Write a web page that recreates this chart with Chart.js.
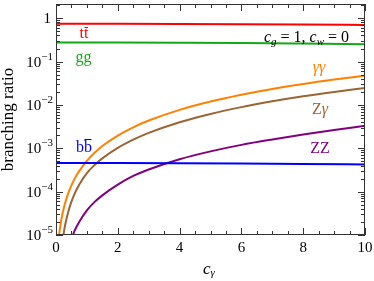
<!DOCTYPE html>
<html>
<head>
<meta charset="utf-8">
<script src="https://cdn.jsdelivr.net/npm/chart.js@4.4.1/dist/chart.umd.min.js"></script>
<style>
html,body{margin:0;padding:0;background:#fff;}
canvas{display:block;}
</style>
</head>
<body>
<canvas id="c" width="374" height="281"></canvas>
<script>
// ---- data ----
const cGrid = [0, 0.05, 0.1, 0.15, 0.2, 0.25, 0.3, 0.4, 0.5, 0.6, 0.75, 1, 1.25, 1.5, 2, 2.5, 3, 4, 5, 6, 7, 8, 9, 10];
const brGamGam = [1.0e-6, 4.3e-6, 1.0e-5, 1.8e-5, 2.85e-5, 4.1e-5, 5.6e-5, 9.4e-5, 1.40e-4, 1.97e-4, 2.98e-4, 5.15e-4, 7.9e-4, 1.13e-3, 1.97e-3, 3.05e-3, 4.37e-3, 7.7e-3, 1.2e-2, 1.72e-2, 2.34e-2, 3.05e-2, 3.85e-2, 4.75e-2];
const brZGam   = [null, null, null, 2.5e-6, 6.0e-6, 1.11e-5, 1.77e-5, 3.5e-5, 5.9e-5, 8.9e-5, 1.45e-4, 2.69e-4, 4.12e-4, 5.86e-4, 1.02e-3, 1.58e-3, 2.27e-3, 4.0e-3, 6.2e-3, 8.9e-3, 1.21e-2, 1.58e-2, 1.99e-2, 2.46e-2];
const brZZ     = [null, null, null, null, null, null, null, 4.0e-6, 7.8e-6, 1.25e-5, 2.0e-5, 3.7e-5, 5.8e-5, 8.2e-5, 1.45e-4, 2.3e-4, 3.25e-4, 5.6e-4, 8.5e-4, 1.2e-3, 1.6e-3, 2.08e-3, 2.65e-3, 3.3e-3];
const cFlat = [0, 2, 4, 6, 8, 10];
const brTT = [0.747, 0.745, 0.739, 0.729, 0.716, 0.700];
const brGG = [0.275, 0.274, 0.271, 0.267, 0.260, 0.252];
const brBB = [4.6e-4, 4.58e-4, 4.52e-4, 4.44e-4, 4.35e-4, 4.25e-4];

const xMajorTicks = [0, 2, 4, 6, 8, 10];
const xTickLabels = ['0', '2', '4', '6', '8', '10'];
const xMinorStep = 0.5;
const yMajorTicks = [1e-5, 1e-4, 1e-3, 1e-2, 1e-1, 1];
const yTickLabels = ['10^\u22125', '10^\u22124', '10^\u22123', '10^\u22122', '10^\u22121', '1'];
const yMin = 1e-5, yMax = 2.13;

const seriesLabels = ['tt\u0304', 'gg', 'bb\u0304', '\u03b3\u03b3', 'Z\u03b3', 'ZZ'];

const COL = {tt:'#ff0000', gg:'#14a814', bb:'#0000ff', aa:'#ff8000', za:'#996633', zz:'#800080'};

function pts(xs, ys){ return xs.map((v,i)=>({x:v, y:ys[i]})); }

const FONT = '"Liberation Serif", "Times New Roman", serif';

const deco = {
  id: 'deco',
  afterDraw(chart){
    const {ctx, chartArea:a, scales:{x, y}} = chart;
    ctx.save();
    // frame
    ctx.strokeStyle = '#333';
    ctx.lineWidth = 1;
    ctx.strokeRect(a.left + 0.5, a.top + 0.5, a.right - a.left - 1, a.bottom - a.top - 1);
    // x ticks (inward, bottom and top)
    ctx.beginPath();
    for (let v = x.min; v <= x.max + 1e-9; v += xMinorStep){
      const major = xMajorTicks.some(m => Math.abs(m - v) < 1e-9);
      const L = major ? 7 : 4;
      const px = Math.round(x.getPixelForValue(v)) + 0.5;
      ctx.moveTo(px, a.bottom); ctx.lineTo(px, a.bottom - L);
      ctx.moveTo(px, a.top); ctx.lineTo(px, a.top + L);
    }
    // y ticks (log, inward, left and right)
    for (let k = -5; k <= 0; k++){
      for (let m = 1; m <= 9; m++){
        const v = m * Math.pow(10, k);
        if (v < yMin * 0.999 || v > yMax) continue;
        const L = m === 1 ? 7 : 4;
        const py = Math.round(y.getPixelForValue(v)) + 0.5;
        ctx.moveTo(a.left, py); ctx.lineTo(a.left + L, py);
        ctx.moveTo(a.right, py); ctx.lineTo(a.right - L, py);
      }
    }
    ctx.stroke();

    // x tick labels
    ctx.fillStyle = '#000';
    ctx.font = '15px ' + FONT;
    ctx.textAlign = 'center';
    ctx.textBaseline = 'alphabetic';
    xMajorTicks.forEach((v, i) => {
      ctx.fillText(xTickLabels[i], x.getPixelForValue(v), 252);
    });
    // y tick labels with superscripts
    yMajorTicks.forEach((v, i) => {
      const py = y.getPixelForValue(v);
      const parts = yTickLabels[i].split('^');
      ctx.textAlign = 'right';
      if (parts.length === 2){
        ctx.font = '11px ' + FONT;
        const ew = ctx.measureText(parts[1]).width;
        ctx.fillText(parts[1], 53, py - 2);
        ctx.font = '15px ' + FONT;
        ctx.fillText(parts[0], 53 - ew, py + 5);
      } else {
        ctx.font = '15px ' + FONT;
        ctx.fillText(parts[0], 51, py + 5);
      }
    });
    // axis titles
    ctx.save();
    ctx.translate(13, (a.top + a.bottom) / 2);
    ctx.rotate(-Math.PI / 2);
    ctx.textAlign = 'center';
    ctx.font = '17px ' + FONT;
    ctx.fillText('branching ratio', 0, 0);
    ctx.restore();
    // c_gamma
    ctx.textAlign = 'left';
    ctx.font = 'italic 17px ' + FONT;
    ctx.fillText('c', 203, 274);
    const cw = ctx.measureText('c').width;
    ctx.font = 'italic 11px ' + FONT;
    ctx.fillText('\u03b3', 203 + cw, 276);

    // annotation c_g = 1, c_w = 0 (right aligned at 349)
    const segs = [
      ['italic 16px ', 'c', 0], ['italic 11px ', 'g', 3], ['16px ', ' = 1, ', 0],
      ['italic 16px ', 'c', 0], ['italic 11px ', 'w', 3], ['16px ', ' = 0', 0]
    ];
    let tot = 0;
    segs.forEach(s => { ctx.font = s[0] + FONT; tot += ctx.measureText(s[1]).width; });
    let cx = 349 - tot;
    segs.forEach(s => {
      ctx.font = s[0] + FONT;
      ctx.fillText(s[1], cx, 42 + s[2]);
      cx += ctx.measureText(s[1]).width;
    });

    // series labels
    function label(txt, color, cxm, base, font, overlineSecond){
      ctx.font = font + FONT;
      ctx.fillStyle = color;
      ctx.strokeStyle = color;
      const w = ctx.measureText(txt).width;
      const x0 = cxm - w / 2;
      ctx.textAlign = 'left';
      ctx.fillText(txt, x0, base);
      if (overlineSecond){
        const w1 = ctx.measureText(txt[0]).width;
        ctx.lineWidth = 1;
        ctx.beginPath();
        ctx.moveTo(x0 + w1 + 0.5, overlineSecond + 0.5);
        ctx.lineTo(x0 + w - 0.5, overlineSecond + 0.5);
        ctx.stroke();
      }
    }
    label('tt', COL.tt, 84, 38, '16px ', 27);
    label('gg', COL.gg, 83.5, 61.5, '16px ', 0);
    label('bb', COL.bb, 84, 151.5, '16px ', 139);
    label('\u03b3\u03b3', COL.aa, 319, 72, 'italic 16px ', 0);
    // Z gamma: upright Z, italic gamma
    ctx.font = '16px ' + FONT;
    const zw = ctx.measureText('Z').width;
    ctx.font = 'italic 16px ' + FONT;
    const gw = ctx.measureText('\u03b3').width;
    const zx = 320 - (zw + gw) / 2;
    ctx.fillStyle = COL.za;
    ctx.font = '16px ' + FONT;
    ctx.fillText('Z', zx, 114);
    ctx.font = 'italic 16px ' + FONT;
    ctx.fillText('\u03b3', zx + zw, 114);
    label('ZZ', COL.zz, 320, 153, '16px ', 0);
    ctx.restore();
  }
};

new Chart(document.getElementById('c'), {
  type: 'line',
  data: {
    datasets: [
      {label: seriesLabels[0], data: pts(cFlat, brTT), borderColor: COL.tt},
      {label: seriesLabels[1], data: pts(cFlat, brGG), borderColor: COL.gg},
      {label: seriesLabels[2], data: pts(cFlat, brBB), borderColor: COL.bb},
      {label: seriesLabels[3], data: pts(cGrid, brGamGam), borderColor: COL.aa},
      {label: seriesLabels[4], data: pts(cGrid, brZGam), borderColor: COL.za},
      {label: seriesLabels[5], data: pts(cGrid, brZZ), borderColor: COL.zz}
    ]
  },
  options: {
    responsive: false,
    animation: false,
    devicePixelRatio: 1,
    layout: {padding: {left: 0, right: 9, top: 4, bottom: 0}},
    elements: {
      point: {radius: 0},
      line: {borderWidth: 2, cubicInterpolationMode: 'monotone', fill: false}
    },
    spanGaps: false,
    plugins: {legend: {display: false}, tooltip: {enabled: false}},
    scales: {
      x: {
        type: 'linear', min: 0, max: 10,
        ticks: {display: false}, grid: {display: false}, border: {display: false},
        afterFit: s => { s.height = 46; }
      },
      y: {
        type: 'logarithmic', min: yMin, max: yMax,
        ticks: {display: false}, grid: {display: false}, border: {display: false},
        afterFit: s => { s.width = 56; }
      }
    }
  },
  plugins: [deco]
});
</script>
</body>
</html>
